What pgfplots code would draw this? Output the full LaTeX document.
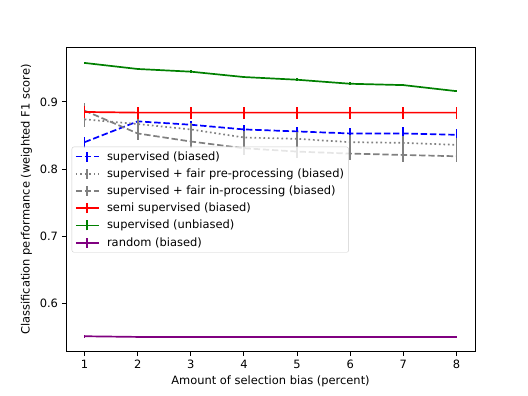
\documentclass[border=0pt]{standalone}
\usepackage{fontspec}
\setmainfont{DejaVu Sans}
\usepackage{pgfplots}
\pgfplotsset{compat=1.18}

\definecolor{mplgreen}{RGB}{0,128,0}
\definecolor{mplpurple}{RGB}{128,0,128}
\definecolor{mplgray}{RGB}{128,128,128}

\begin{document}
\fontsize{11.5}{13.8}\selectfont
\begin{tikzpicture}[font=\fontsize{11.5}{13.8}\selectfont]
% figure frame (528 x 396) around the axis
\path[use as bounding box] (-66bp,-44.3bp) rectangle (462bp,351.7bp);
\begin{axis}[
    at={(0,0)}, anchor=south west,
    scale only axis,
    width=409bp, height=304.2bp,
    xmin=0.65, xmax=8.35,
    ymin=0.528, ymax=0.981,
    xtick={1,2,3,4,5,6,7,8},
    ytick={0.6,0.7,0.8,0.9},
    tick align=outside,
    tick pos=left,
    major tick length=4bp,
    axis line style={line width=0.9bp},
    every tick/.style={line width=0.9bp, black},
    /pgf/number format/assume math mode=true,
    yticklabel style={/pgf/number format/fixed, /pgf/number format/precision=1, /pgf/number format/fixed zerofill},
    xlabel={Amount of selection bias (percent)},
    ylabel={Classification performance (weighted F1 score)},
    legend cell align=left,
    legend style={at={(0.014,0.5)}, anchor=west,
        draw=white!80!black, rounded corners=2bp,
        fill=white, fill opacity=0.8, text opacity=1,
        inner xsep=3bp, inner ysep=1bp, row sep=0bp,
        font=\fontsize{11.5}{13.8}\selectfont,
        nodes={inner xsep=1.6bp, inner ysep=3.4bp},
        /tikz/every odd column/.append style={column sep=5.8bp}},
    legend image code/.code={
        \draw[#1] (0bp,0bp) -- (23bp,0bp);
        \draw[#1,solid] (11.5bp,-5bp) -- (11.5bp,5bp);
    },
]
\addplot[blue, line width=1.7bp, dash pattern=on 6.4bp off 2.8bp, mark=none,
    error bars/.cd, y dir=both, y explicit, error mark=none,
    error bar style={line width=1.7bp, solid}]
coordinates {
    (1,0.840) +- (0,0.008)
    (2,0.871) +- (0,0.006)
    (3,0.866) +- (0,0.006)
    (4,0.859) +- (0,0.006)
    (5,0.856) +- (0,0.0065)
    (6,0.853) +- (0,0.0075)
    (7,0.853) +- (0,0.009)
    (8,0.851) +- (0,0.0087)
};
\addlegendentry{supervised (biased)}

\addplot[mplgray, line width=1.7bp, dash pattern=on 1.7bp off 2.8bp, mark=none,
    error bars/.cd, y dir=both, y explicit, error mark=none,
    error bar style={line width=1.7bp, solid}]
coordinates {
    (1,0.874) +- (0,0.012)
    (2,0.867) +- (0,0.010)
    (3,0.859) +- (0,0.010)
    (4,0.847) +- (0,0.010)
    (5,0.845) +- (0,0.010)
    (6,0.840) +- (0,0.010)
    (7,0.839) +- (0,0.010)
    (8,0.836) +- (0,0.010)
};
\addlegendentry{supervised + fair pre-processing (biased)}

\addplot[mplgray, line width=1.7bp, dash pattern=on 6.4bp off 2.8bp, mark=none,
    error bars/.cd, y dir=both, y explicit, error mark=none,
    error bar style={line width=1.7bp, solid}]
coordinates {
    (1,0.887) +- (0,0.012)
    (2,0.853) +- (0,0.010)
    (3,0.841) +- (0,0.010)
    (4,0.831) +- (0,0.010)
    (5,0.826) +- (0,0.010)
    (6,0.823) +- (0,0.010)
    (7,0.821) +- (0,0.010)
    (8,0.819) +- (0,0.008)
};
\addlegendentry{supervised + fair in-processing (biased)}

\addplot[red, line width=1.7bp, mark=none,
    error bars/.cd, y dir=both, y explicit, error mark=none,
    error bar style={line width=1.7bp, solid}]
coordinates {
    (1,0.885) +- (0,0.009)
    (2,0.884) +- (0,0.009)
    (3,0.884) +- (0,0.009)
    (4,0.884) +- (0,0.009)
    (5,0.884) +- (0,0.009)
    (6,0.884) +- (0,0.009)
    (7,0.884) +- (0,0.009)
    (8,0.884) +- (0,0.009)
};
\addlegendentry{semi supervised (biased)}

\addplot[mplgreen, line width=1.7bp, mark=none,
    error bars/.cd, y dir=both, y explicit, error mark=none,
    error bar style={line width=1.7bp, solid}]
coordinates {
    (1,0.958) +- (0,0.002)
    (2,0.949) +- (0,0.002)
    (3,0.945) +- (0,0.002)
    (4,0.937) +- (0,0.002)
    (5,0.933) +- (0,0.002)
    (6,0.927) +- (0,0.002)
    (7,0.925) +- (0,0.002)
    (8,0.916) +- (0,0.002)
};
\addlegendentry{supervised (unbiased)}

\addplot[mplpurple, line width=1.7bp, mark=none,
    error bars/.cd, y dir=both, y explicit, error mark=none,
    error bar style={line width=1.7bp, solid}]
coordinates {
    (1,0.551) +- (0,0.002)
    (2,0.550) +- (0,0.0015)
    (3,0.550) +- (0,0.0015)
    (4,0.550) +- (0,0.0015)
    (5,0.550) +- (0,0.0015)
    (6,0.550) +- (0,0.0015)
    (7,0.550) +- (0,0.0015)
    (8,0.550) +- (0,0.0015)
};
\addlegendentry{random (biased)}
\end{axis}
\end{tikzpicture}
\end{document}
